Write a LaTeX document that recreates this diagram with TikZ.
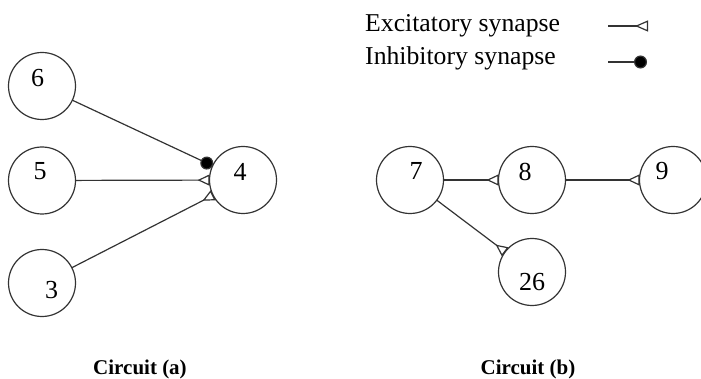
\documentclass[tikz,border=0pt]{standalone}
\usepackage{fontspec}
\setmainfont{Liberation Serif}
\usetikzlibrary{arrows.meta}
\begin{document}
\begin{tikzpicture}[x=1pt,y=-1pt,
  neuron/.style={draw=black!80,line width=1.2pt,circle,minimum size=67pt,inner sep=0pt,outer sep=0pt},
  numlbl/.style={font=\fontsize{26}{28}\selectfont},
  conn/.style={draw=black!80,line width=1.2pt},
  exc/.style={conn,-{Triangle[reversed,open,length=12pt,width=11pt,line width=1.2pt]}},
  inh/.style={conn,-{Circle[length=13pt,fill=black]}},
  legtxt/.style={anchor=base west,inner sep=0pt,font=\fontsize{25.7}{28}\selectfont},
  captxt/.style={anchor=base,inner sep=0pt,font=\fontsize{21}{24}\selectfont\bfseries}]
\useasboundingbox (0,0) rectangle (701,379);
% Circuit (a)
\node[neuron,label={[numlbl,xshift=-4.5pt,yshift=8pt]center:6}] (n6) at (42,86) {};
\node[neuron,label={[numlbl,xshift=-2pt,yshift=9pt]center:5}] (n5) at (42,180.5) {};
\node[neuron,label={[numlbl,xshift=9.5pt,yshift=-7pt]center:3}] (n3) at (42,283) {};
\node[neuron,label={[numlbl,xshift=-3pt,yshift=8pt]center:4}] (n4) at (243,180) {};
\draw[inh] (n6) -- (n4);
\draw[exc] (n5) -- (n4);
\draw[exc] (n3) -- (n4);
% Circuit (b)
\node[neuron,label={[numlbl,xshift=6pt,yshift=9pt]center:7}] (n7) at (410,180) {};
\node[neuron,label={[numlbl,xshift=-7pt,yshift=8pt]center:8}] (n8) at (532,180) {};
\node[neuron,label={[numlbl,xshift=-11pt,yshift=9pt]center:9}] (n9) at (673,180) {};
\node[neuron,label={[numlbl,xshift=0pt,yshift=-10pt]center:26}] (n26) at (532,272) {};
\draw[exc] (n7) -- (n8);
\draw[exc] (n8) -- (n9);
\draw[exc] (n7) -- (n26);
% Legend
\node[legtxt] (le) at (365,32) {Excitatory synapse};
\node[legtxt] (li) at (365,65) {Inhibitory synapse};
\coordinate (e1) at (608,26);
\coordinate (e2) at (648,26);
\coordinate (i1) at (608,62);
\coordinate (i2) at (647,62);
\draw[conn,-{Triangle[reversed,open,length=13pt,width=11pt,line width=1.2pt]}] (e1) -- (e2);
\draw[inh] (i1) -- (i2);
% Captions
\node[captxt] (ca) at (140,374) {Circuit (a)};
\node[captxt] (cb) at (528,374) {Circuit (b)};
\end{tikzpicture}
\end{document}
